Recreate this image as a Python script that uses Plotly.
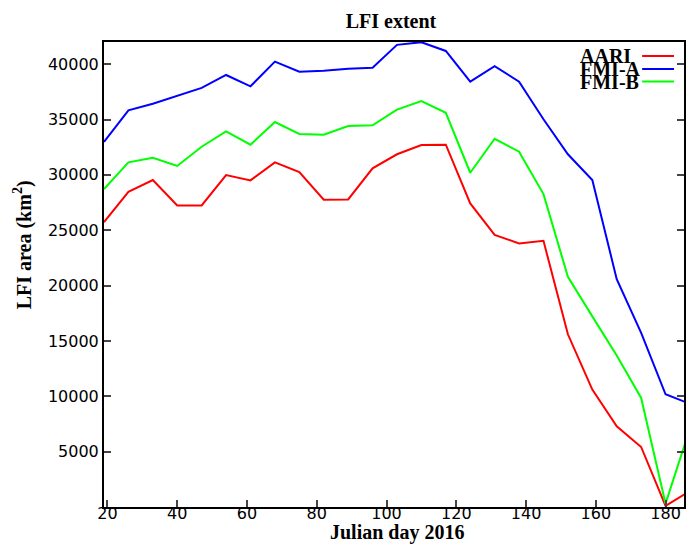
import plotly.graph_objects as go

days = [19, 26, 33, 40, 47, 54, 61, 68, 75, 82, 89, 96, 103, 110, 117, 124,
        131, 138, 145, 152, 159, 166, 173, 180, 187]
aari = [25730, 28470, 29530, 27240, 27240, 29980, 29500, 31130, 30250, 27750,
        27780, 30590, 31860, 32690, 32720, 27420, 24580, 23810, 24040, 15600,
        10600, 7290, 5420, 100, 1440]
fmi_a = [32970, 35830, 36430, 37120, 37850, 39020, 38000, 40230, 39320, 39410,
         39590, 39680, 41740, 41980, 41190, 38420, 39810, 38420, 35020, 31860,
         29530, 20580, 15720, 10180, 9320]
fmi_b = [28720, 31130, 31550, 30800, 32540, 33930, 32720, 34770, 33690, 33630,
         34410, 34470, 35890, 36670, 35610, 30190, 33260, 32090, 28260, 20790,
         17220, 13680, 9850, 300, 7100]
series_names = ["AARI", "FMI-A", "FMI-B"]
series_colors = ["#ff0000", "#0000ff", "#00ff00"]
x_ticks = [20, 40, 60, 80, 100, 120, 140, 160, 180]
y_ticks = [5000, 10000, 15000, 20000, 25000, 30000, 35000, 40000]

W, H = 686, 544
L, R, T, B = 104, 0, 42, 37
pw, ph = W - L - R, H - T - B

fig = go.Figure()
for name, vals, col in zip(series_names, [aari, fmi_a, fmi_b], series_colors):
    fig.add_trace(go.Scatter(x=days, y=vals, mode="lines", name=name,
                             line=dict(color=col, width=2), showlegend=False))

serif = "Liberation Serif, Times New Roman, serif"
sans = "DejaVu Sans, sans-serif"

def px2paper(x, y):
    return (x - L) / pw, (H - B - y) / ph

# manual legend (overlapping like the original)
leg_y = [56, 69, 81.5]
for name, col, yy in zip(series_names, series_colors, leg_y):
    ax, ay = px2paper(580, yy)
    fig.add_annotation(xref="paper", yref="paper", x=ax, y=ay, text="<b>%s</b>" % name,
                       showarrow=False, xanchor="left", yanchor="middle",
                       font=dict(family=serif, size=20, color="black"))
    x0, y0 = px2paper(644, yy)
    x1, _ = px2paper(676, yy)
    fig.add_shape(type="line", xref="paper", yref="paper", x0=x0, x1=x1, y0=y0, y1=y0,
                  line=dict(color=col, width=2))

# axis titles
tx, ty = px2paper(398, 532)
fig.add_annotation(xref="paper", yref="paper", x=tx, y=ty, text="<b>Julian day 2016</b>",
                   showarrow=False, xanchor="center", yanchor="middle",
                   font=dict(family=serif, size=20, color="black"))
tx, ty = px2paper(23, 245)
fig.add_annotation(xref="paper", yref="paper", x=tx, y=ty, text="<b>LFI area (km<sup>2</sup>)</b>",
                   showarrow=False, xanchor="center", yanchor="middle", textangle=-90,
                   font=dict(family=serif, size=20, color="black"))

fig.update_layout(
    width=W, height=H,
    margin=dict(l=L, r=R, t=T, b=B, pad=0),
    paper_bgcolor="white", plot_bgcolor="white",
    title=dict(text="<b>LFI extent</b>", x=391 / W, xanchor="center",
               y=1 - 20.5 / H, yanchor="middle",
               font=dict(family=serif, size=20, color="black")),
    xaxis=dict(range=[19, 19 + pw / 3.5], tickvals=x_ticks, ticks="inside", ticklen=7,
               tickwidth=2, showline=True, linewidth=2, linecolor="black", mirror=True,
               showgrid=False, zeroline=False, tickformat="d", ticklabelstandoff=-9,
               tickfont=dict(family=sans, size=16, color="black")),
    yaxis=dict(range=[0, 42000], tickvals=y_ticks, ticks="inside", ticklen=7,
               tickwidth=2, showline=True, linewidth=2, linecolor="black", mirror="ticks",
               showgrid=False, zeroline=False, tickformat="d",
               tickfont=dict(family=sans, size=16, color="black")),
)

fig.write_html("out.html", config={"displayModeBar": False},
               post_script="document.body.style.margin='0';")
